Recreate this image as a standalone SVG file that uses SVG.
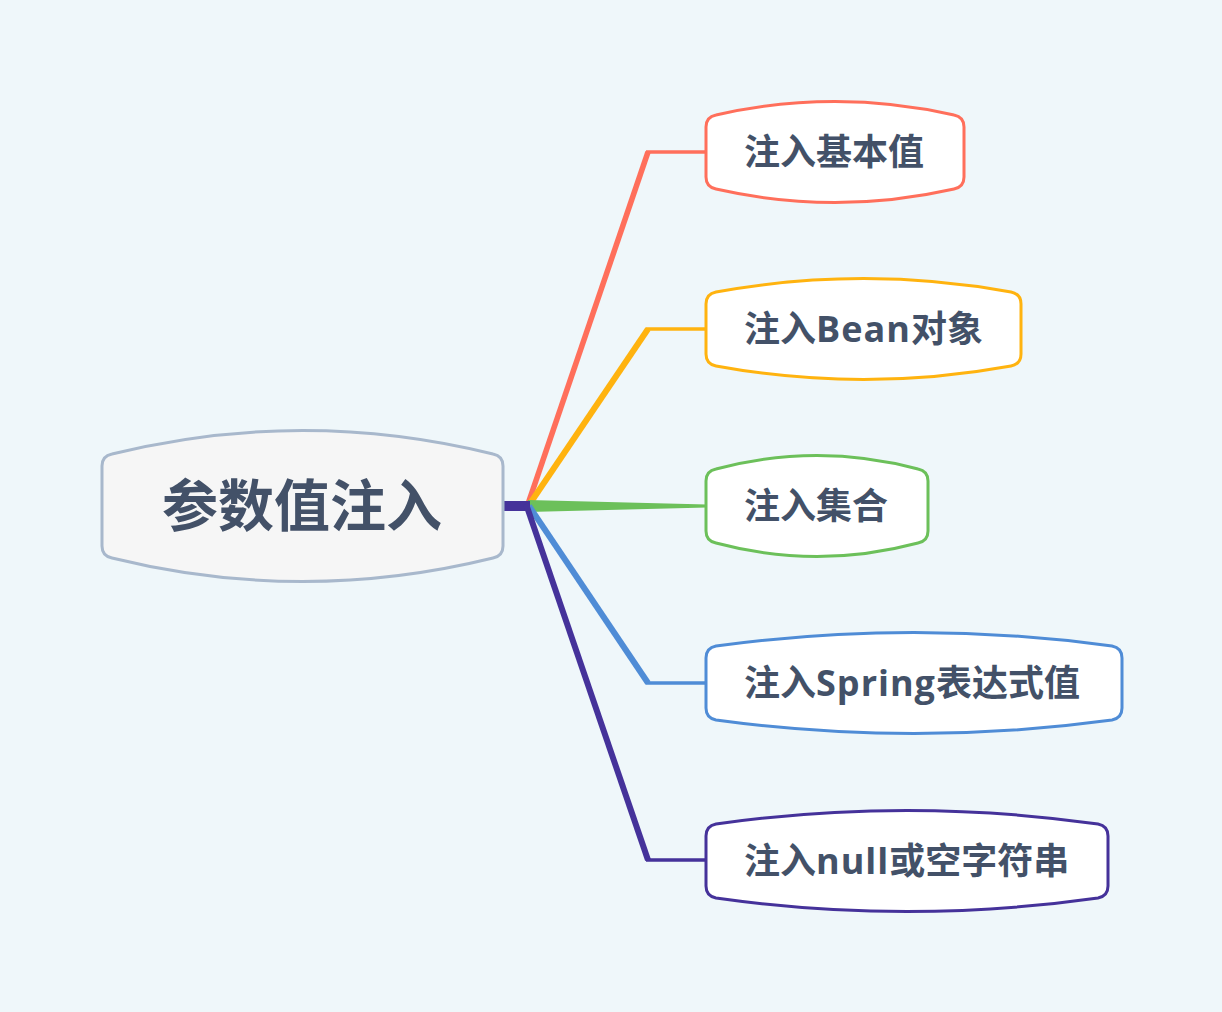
<svg xmlns="http://www.w3.org/2000/svg" width="1222" height="1012" viewBox="0 0 1222 1012">
<style>
.node{stroke-width:3;fill:#ffffff}
.t{font-family:"Open Sans","Noto Sans CJK SC",sans-serif;font-weight:700;font-size:36px;fill:#435168}
.l{letter-spacing:1px}
.c{stroke-linejoin:miter;fill:none}
</style>
<rect width="1222" height="1012" fill="#EFF7FA"/>
<g id="connectors">
  <path class="c" d="M528,504 L648,152" stroke="#FF6F5B" stroke-width="5.5"/>
  <path class="c" d="M646,152 L707,152" stroke="#FF6F5B" stroke-width="3.5"/>
  <path class="c" d="M529,505 L648,329" stroke="#FFB30F" stroke-width="6"/>
  <path class="c" d="M646,329 L707,329" stroke="#FFB30F" stroke-width="3.5"/>
  <polygon points="528,500 707,504.5 707,507.5 528,512" fill="#6CC05A"/>
  <path class="c" d="M529,506 L648,683" stroke="#4F8CD6" stroke-width="6"/>
  <path class="c" d="M646,683 L707,683" stroke="#4F8CD6" stroke-width="3.5"/>
  <rect x="503" y="501" width="27" height="10" fill="#45329A"/>
  <path class="c" d="M526,504 L648,860" stroke="#45329A" stroke-width="6"/>
  <path class="c" d="M646,860 L707,860" stroke="#45329A" stroke-width="3.5"/>
</g>
<g id="root">
  <path d="M112,454 Q302.5,407 493,454 Q503,456 503,466 L503,546 Q503,556 493,558 Q302.5,605 112,558 Q102,556 102,546 L102,466 Q102,456 112,454 Z" fill="#F6F6F6" stroke="#A8B8CC" stroke-width="3"/>
  <text x="162" y="526" style="font-family:'Open Sans','Noto Sans CJK SC',sans-serif;font-weight:700;font-size:56px;fill:#435168">参数值注入</text>
</g>
<g id="n1">
  <path class="node" stroke="#FF6F5B" d="M716,115 Q835,88 954,115 Q964,117 964,127 L964,177 Q964,187 954,189 Q835,216 716,189 Q706,187 706,177 L706,127 Q706,117 716,115 Z"/>
  <text class="t" x="744" y="165">注入基本值</text>
</g>
<g id="n2">
  <path class="node" stroke="#FFB30F" d="M716,292 Q863.5,265 1011,292 Q1021,294 1021,304 L1021,354 Q1021,364 1011,366 Q863.5,393 716,366 Q706,364 706,354 L706,304 Q706,294 716,292 Z"/>
  <text class="t" x="744" y="342">注入<tspan class="l">Bean</tspan>对象</text>
</g>
<g id="n3">
  <path class="node" stroke="#6CC05A" d="M716,469 Q817,442 918,469 Q928,471 928,481 L928,531 Q928,541 918,543 Q817,570 716,543 Q706,541 706,531 L706,481 Q706,471 716,469 Z"/>
  <text class="t" x="744" y="519">注入集合</text>
</g>
<g id="n4">
  <path class="node" stroke="#4F8CD6" d="M716,646 Q914,619 1112,646 Q1122,648 1122,658 L1122,708 Q1122,718 1112,720 Q914,747 716,720 Q706,718 706,708 L706,658 Q706,648 716,646 Z"/>
  <text class="t" x="744" y="696">注入<tspan class="l">Spring</tspan>表达式值</text>
</g>
<g id="n5">
  <path class="node" stroke="#45329A" d="M716,824 Q907,797 1098,824 Q1108,826 1108,836 L1108,886 Q1108,896 1098,898 Q907,925 716,898 Q706,896 706,886 L706,836 Q706,826 716,824 Z"/>
  <text class="t" x="744" y="874">注入<tspan class="l">null</tspan>或空字符串</text>
</g>
</svg>
